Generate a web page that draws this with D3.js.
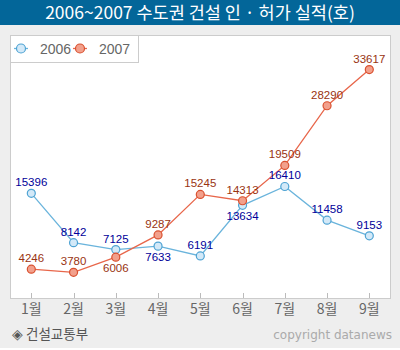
<!DOCTYPE html>
<html>
<head>
<meta charset="utf-8">
<script src="https://cdn.jsdelivr.net/npm/d3@7"></script>
<style>
  body { margin: 0; background: #fff; }
  svg { display: block; }
</style>
</head>
<body>
<svg id="chart" width="400" height="350"></svg>
<script>
const months = ["1월", "2월", "3월", "4월", "5월", "6월", "7월", "8월", "9월"];
const values2006 = [15396, 8142, 7125, 7633, 6191, 13634, 16410, 11458, 9153];
const values2007 = [4246, 3780, 6006, 9287, 15245, 14313, 19509, 28290, 33617];
// labels drawn under the point instead of above
const below2006 = [false, false, false, true, false, true, false, false, false];
const below2007 = [false, false, true, false, false, false, false, false, false];
const seriesNames = ["2006", "2007"];

const svg = d3.select("#chart");
const numFont = "'Liberation Sans', Arial, sans-serif";
const krFont = "'Noto Sans CJK KR', 'Noto Sans', sans-serif";

// background
svg.append("rect").attr("width", 400).attr("height", 350).attr("fill", "#eeeeee");
svg.append("rect").attr("y", 348).attr("width", 400).attr("height", 2).attr("fill", "#ffffff");

// title bar
svg.append("rect").attr("width", 400).attr("height", 25).attr("fill", "#036699");
svg.append("text")
    .attr("x", 200).attr("y", 19)
    .attr("text-anchor", "middle")
    .attr("fill", "#fff")
    .style("font-family", krFont)
    .style("font-size", "17.5px")
    .text("2006~2007 수도권 건설 인 · 허가 실적(호)");

// plot panel
const panel = { left: 10.5, top: 35.5, right: 390.5, bottom: 298.5 };
svg.append("rect")
    .attr("x", panel.left).attr("y", panel.top)
    .attr("width", panel.right - panel.left).attr("height", panel.bottom - panel.top)
    .attr("fill", "#fff").attr("stroke", "#cccccc");

const x = d3.scalePoint().domain(months).range([31.3, 369.3]);
const y = d3.scaleLinear().domain([0, 38700]).range([298, 35]);

// x ticks
const xAxis = svg.append("g");
months.forEach(m => {
    xAxis.append("line")
        .attr("x1", Math.round(x(m)) + 0.5).attr("x2", Math.round(x(m)) + 0.5)
        .attr("y1", 293).attr("y2", 298)
        .attr("stroke", "#bbbbbb");
    xAxis.append("text")
        .attr("x", x(m)).attr("y", 314)
        .attr("text-anchor", "middle")
        .attr("fill", "#666")
        .style("font-family", krFont)
        .style("font-size", "14px")
        .text(m);
});

function drawSeries(values, lineColor, dotFill, dotStroke) {
    let g = svg.append("g");
    let line = d3.line()
        .x((d, i) => x(months[i]))
        .y(d => y(d));
    g.append("path")
        .datum(values)
        .attr("d", line)
        .attr("fill", "none")
        .attr("stroke", lineColor)
        .attr("stroke-width", 1.3);
    g.selectAll("circle").data(values).enter()
        .append("circle")
        .attr("cx", (d, i) => x(months[i]))
        .attr("cy", d => y(d))
        .attr("r", 4)
        .attr("fill", dotFill)
        .attr("stroke", dotStroke)
        .attr("stroke-width", 1.2);
    return g;
}

function drawLabels(values, below, labelColor) {
    svg.append("g").selectAll("text").data(values).enter()
        .append("text")
        .attr("x", (d, i) => x(months[i]))
        .attr("y", (d, i) => y(d) + (below[i] ? 15 : -7))
        .attr("text-anchor", "middle")
        .attr("fill", labelColor)
        .style("font-family", numFont)
        .style("font-size", "11.5px")
        .text(d => d);
}

drawSeries(values2006, "#6ab4dc", "#d3e9f8", "#4ea3d3");
drawSeries(values2007, "#e8664a", "#f2a08c", "#d9502f");
drawLabels(values2006, below2006, "#000099");
drawLabels(values2007, below2007, "#993311");

// legend
const legend = svg.append("g");
legend.append("rect")
    .attr("x", 10.5).attr("y", 35.5).attr("width", 128).attr("height", 27)
    .attr("fill", "#fff").attr("stroke", "#cccccc");
const legendItems = [
    { name: seriesNames[0], cx: 21, line: "#6ab4dc", fill: "#d3e9f8", stroke: "#4ea3d3" },
    { name: seriesNames[1], cx: 80, line: "#e8664a", fill: "#f2a08c", stroke: "#d9502f" }
];
legendItems.forEach(it => {
    legend.append("line")
        .attr("x1", it.cx - 7).attr("x2", it.cx + 7)
        .attr("y1", 48.5).attr("y2", 48.5)
        .attr("stroke", it.line).attr("stroke-width", 1.3);
    legend.append("circle")
        .attr("cx", it.cx).attr("cy", 48.5).attr("r", 4.5)
        .attr("fill", it.fill).attr("stroke", it.stroke).attr("stroke-width", 1.2);
    legend.append("text")
        .attr("x", it.cx + 19).attr("y", 53.5)
        .attr("fill", "#666")
        .style("font-family", numFont)
        .style("font-size", "14px")
        .text(it.name);
});

// footer
svg.append("text")
    .attr("x", 12).attr("y", 339)
    .attr("fill", "#555")
    .style("font-family", krFont)
    .style("font-size", "13.5px")
    .text("◈ 건설교통부");
svg.append("text")
    .attr("x", 392).attr("y", 339)
    .attr("text-anchor", "end")
    .attr("fill", "#aaaaaa")
    .style("font-family", "'DejaVu Sans', sans-serif")
    .style("font-size", "12px")
    .text("copyright datanews");
</script>
</body>
</html>
